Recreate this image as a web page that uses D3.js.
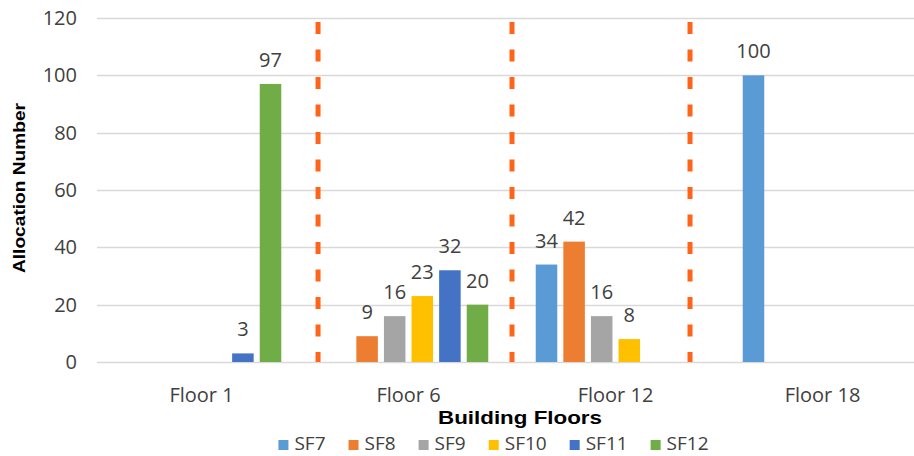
<!DOCTYPE html>
<html>
<head>
<meta charset="utf-8">
<script src="https://cdn.jsdelivr.net/npm/d3@7"></script>
<style>
  html, body { margin: 0; padding: 0; background: #fff; }
  svg { display: block; }
</style>
</head>
<body>
<svg id="chart" width="914" height="456"></svg>
<script>
// Categories, series and tick labels
const floors = ["Floor 1", "Floor 6", "Floor 12", "Floor 18"];
const seriesNames = ["SF7", "SF8", "SF9", "SF10", "SF11", "SF12"];
const seriesColors = ["#5B9BD5", "#ED7D31", "#A5A5A5", "#FFC000", "#4472C4", "#70AD47"];
// Allocation counts per floor (null = no allocation)
const sf7  = [null, null, 34, 100];
const sf8  = [null, 9, 42, null];
const sf9  = [null, 16, 16, null];
const sf10 = [null, 23, 8, null];
const sf11 = [3, 32, null, null];
const sf12 = [97, 20, null, null];
const yTicks = [0, 20, 40, 60, 80, 100, 120];
// Separator positions, in floor-index units along the category axis
const separators = [1.063, 2.0, 2.86];

const seriesValues = [sf7, sf8, sf9, sf10, sf11, sf12];

const svg = d3.select("#chart");
const W = 914, H = 456;
const plot = { left: 98, right: 926, top: 18, bottom: 362 };
const font = "'Open Sans', sans-serif";
const textColor = "#404040";

const x0 = d3.scaleBand().domain(floors).range([plot.left, plot.right])
  .paddingInner(0.2).paddingOuter(0.1);
const x1 = d3.scaleBand().domain(seriesNames).range([0, x0.bandwidth()])
  .paddingInner(0.22).paddingOuter(0.11);
const y = d3.scaleLinear().domain([0, 120]).range([plot.bottom, plot.top]);
const xIdx = d3.scaleLinear().domain([0, floors.length]).range([plot.left, plot.right]);

// Gridlines
svg.append("g").selectAll("line").data(yTicks).join("line")
  .attr("x1", plot.left - 1).attr("x2", W)
  .attr("y1", d => Math.round(y(d)) + 0.5).attr("y2", d => Math.round(y(d)) + 0.5)
  .attr("stroke", "#D9D9D9").attr("stroke-width", 1.3);

// Y axis tick labels
const yAxis = d3.axisLeft(y).tickValues(yTicks).tickSize(0).tickPadding(0);
const gy = svg.append("g").attr("transform", `translate(${plot.left - 21},0)`).call(yAxis);
gy.select(".domain").remove();
gy.selectAll("text").attr("font-family", font).attr("font-size", 20).attr("fill", textColor);

// X axis category labels
const xAxis = d3.axisBottom(x0).tickSize(0).tickPadding(0);
const gx = svg.append("g").attr("transform", `translate(0,${plot.bottom + 30})`).call(xAxis);
gx.select(".domain").remove();
gx.selectAll("text").attr("font-family", font).attr("font-size", 20).attr("fill", textColor)
  .attr("dy", "0.5em");

// Bars
const bars = [];
seriesValues.forEach((vals, si) => {
  vals.forEach((v, fi) => {
    if (v !== null) bars.push({ floor: floors[fi], series: seriesNames[si], color: seriesColors[si], value: v });
  });
});

svg.append("g").selectAll("rect").data(bars).join("rect")
  .attr("x", d => x0(d.floor) + x1(d.series))
  .attr("y", d => y(d.value))
  .attr("width", x1.bandwidth())
  .attr("height", d => y(0) - y(d.value))
  .attr("fill", d => d.color);

// Value labels
svg.append("g").selectAll("text").data(bars).join("text")
  .attr("x", d => x0(d.floor) + x1(d.series) + x1.bandwidth() / 2)
  .attr("y", d => y(d.value) - 17)
  .attr("text-anchor", "middle")
  .attr("font-family", font).attr("font-size", 20).attr("fill", textColor)
  .text(d => d.value);

// Dashed separators between floors
svg.append("g").selectAll("line").data(separators).join("line")
  .attr("x1", d => xIdx(d)).attr("x2", d => xIdx(d))
  .attr("y1", y(118.6)).attr("y2", y(0))
  .attr("stroke", "#FF6418").attr("stroke-width", 5)
  .attr("stroke-dasharray", "12,15.5");

// Axis titles
svg.append("text")
  .attr("x", 520).attr("y", 424)
  .attr("text-anchor", "middle")
  .attr("font-family", "'Liberation Sans', Arial, sans-serif")
  .attr("font-weight", "bold").attr("font-size", 18).attr("fill", "#000")
  .attr("textLength", 164).attr("lengthAdjust", "spacingAndGlyphs")
  .text("Building Floors");

svg.append("text")
  .attr("transform", "translate(25,188) rotate(-90)")
  .attr("text-anchor", "middle")
  .attr("font-family", "'Liberation Sans', Arial, sans-serif")
  .attr("font-weight", "bold").attr("font-size", 17).attr("fill", "#000")
  .attr("textLength", 170).attr("lengthAdjust", "spacingAndGlyphs")
  .text("Allocation Number");

// Legend
const legend = svg.append("g");
let lx = 0;
seriesNames.forEach((name, i) => {
  const item = legend.append("g").attr("transform", `translate(${lx},0)`);
  item.append("rect").attr("x", 0).attr("y", 440).attr("width", 10).attr("height", 10)
    .attr("fill", seriesColors[i]);
  const t = item.append("text").attr("x", 16).attr("y", 450)
    .attr("font-family", font).attr("font-size", 19).attr("fill", textColor)
    .text(name);
  lx += 16 + t.node().getComputedTextLength() + 23;
});
const legendWidth = lx - 23;
legend.attr("transform", `translate(${493.5 - legendWidth / 2},0)`);
</script>
</body>
</html>
